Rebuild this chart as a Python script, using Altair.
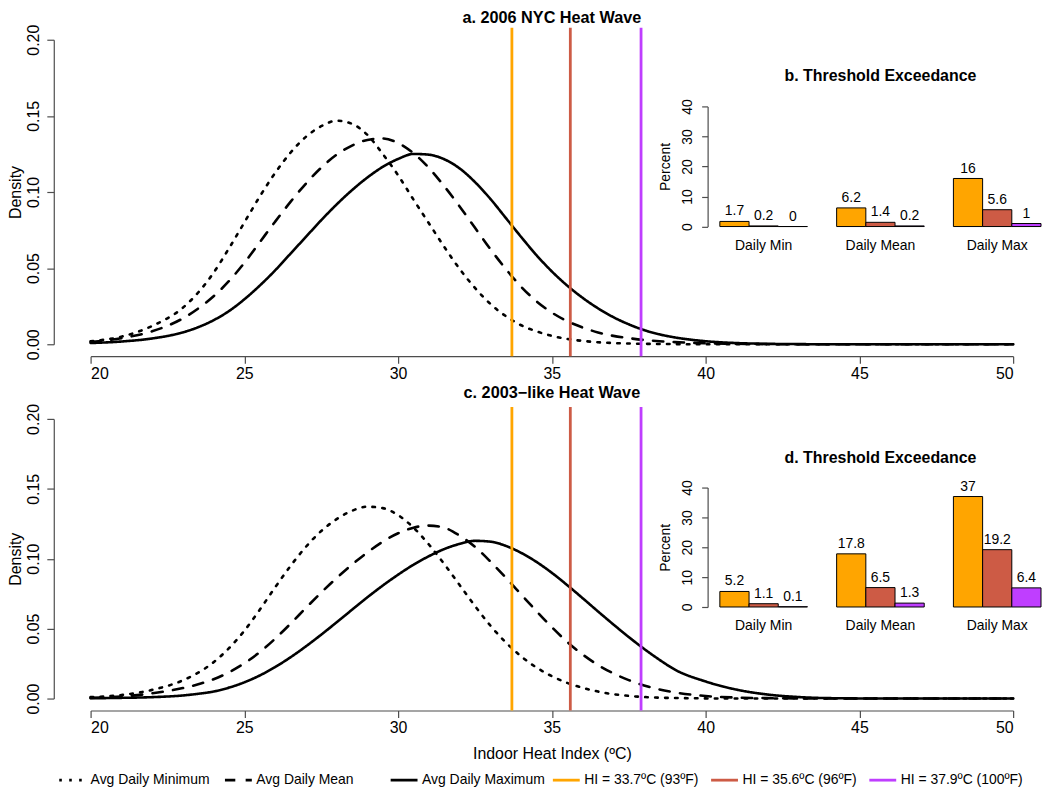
import altair as alt
import pandas as pd

# ---------------- data ----------------
X = [20, 21, 22, 23, 23.5, 24, 24.5, 25, 25.5, 26, 26.5, 27, 27.5, 28, 28.5, 29, 29.5,
     30, 30.5, 31, 31.5, 32, 32.5, 33, 33.5, 34, 34.5, 35, 35.5, 36, 36.5, 37, 37.5,
     38, 38.5, 39, 40, 41, 42, 43, 44, 46, 50]

# panel a: 2006 NYC heat wave
A_MIN = [0.002, 0.005, 0.012, 0.024, 0.034, 0.047, 0.063, 0.080, 0.097, 0.1125, 0.1258,
         0.1362, 0.1432, 0.1468, 0.1448, 0.1375, 0.125, 0.111, 0.095, 0.0795, 0.064, 0.0495,
         0.037, 0.0265, 0.0185, 0.0125, 0.0085, 0.0055, 0.0035, 0.0022, 0.0013, 0.0008,
         0.0005, 0.0003, 0.0002, 0.0001, 0, 0, 0, 0, 0, 0, 0]
A_MEAN = [0.0015, 0.004, 0.0085, 0.017, 0.0235, 0.0315, 0.0415, 0.0535, 0.067, 0.0805,
          0.0935, 0.1055, 0.116, 0.1245, 0.1305, 0.1342, 0.1352, 0.1322, 0.1255, 0.1158,
          0.1038, 0.0905, 0.0765, 0.0625, 0.0495, 0.0378, 0.0282, 0.0208, 0.0152, 0.011,
          0.0078, 0.0055, 0.004, 0.0028, 0.002, 0.0014, 0.0007, 0.0003, 0.0001, 0, 0, 0, 0]
A_MAX = [0.0008, 0.0018, 0.0038, 0.0078, 0.0112, 0.0158, 0.0218, 0.0295, 0.0385, 0.0485,
         0.0595, 0.0705, 0.0815, 0.0918, 0.1012, 0.1095, 0.1165, 0.1217, 0.125, 0.1245,
         0.1215, 0.1155, 0.1065, 0.0955, 0.083, 0.0705, 0.0585, 0.0478, 0.0385, 0.0305,
         0.0236, 0.0178, 0.0131, 0.0093, 0.0065, 0.0045, 0.002, 0.0008, 0.0003, 0.0001, 0, 0, 0]

# panel c: 2003-like heat wave
C_MIN = [0.001, 0.0025, 0.0062, 0.013, 0.0185, 0.026, 0.036, 0.0485, 0.0635, 0.0795,
         0.0948, 0.1085, 0.1198, 0.1283, 0.1343, 0.1372, 0.1362, 0.1312, 0.1222, 0.1102,
         0.0962, 0.0812, 0.0662, 0.0522, 0.0402, 0.0302, 0.0222, 0.016, 0.0112, 0.0077,
         0.005, 0.0031, 0.0019, 0.0011, 0.0006, 0.0004, 0.0001, 0, 0, 0, 0, 0, 0]
C_MEAN = [0.0005, 0.0015, 0.0037, 0.0075, 0.0102, 0.0138, 0.0188, 0.0252, 0.0332, 0.0428,
          0.0535, 0.0648, 0.0758, 0.0862, 0.0958, 0.1045, 0.1122, 0.1182, 0.1222, 0.1237,
          0.1222, 0.1165, 0.1085, 0.098, 0.0865, 0.0745, 0.0625, 0.051, 0.0405, 0.0315,
          0.024, 0.018, 0.0132, 0.0094, 0.0065, 0.0044, 0.0018, 0.0007, 0.0003, 0.0001, 0, 0, 0]
C_MAX = [0.0002, 0.0005, 0.001, 0.0022, 0.0034, 0.005, 0.0078, 0.0116, 0.0165, 0.0225,
         0.0295, 0.0373, 0.0457, 0.0545, 0.0635, 0.0724, 0.0808, 0.0886, 0.0957, 0.1018,
         0.1069, 0.1106, 0.1128, 0.1122, 0.1092, 0.1042, 0.0977, 0.0899, 0.0811, 0.0718,
         0.0623, 0.053, 0.044, 0.0355, 0.0277, 0.0207, 0.0122, 0.0064, 0.0029, 0.0011,
         0.0003, 0, 0]

LINES = ["Avg Daily Minimum", "Avg Daily Mean", "Avg Daily Maximum"]
THRESH_NAMES = ["HI = 33.7ºC (93ºF)", "HI = 35.6ºC (96ºF)", "HI = 37.9ºC (100ºF)"]
THRESH = [33.7, 35.6, 37.9]

CATS = ["Daily Min", "Daily Mean", "Daily Max"]
B_PCT = [[1.7, 0.2, 0], [6.2, 1.4, 0.2], [16, 5.6, 1]]
D_PCT = [[5.2, 1.1, 0.1], [17.8, 6.5, 1.3], [37, 19.2, 6.4]]

# ---------------- styling ----------------
FONT = "Liberation Sans"
TH_COLORS = ["#FFA500", "#CD5B45", "#BF3EFF"]
DASHES = [[2.6, 7.4], [10.4, 10.4], [1, 0]]
W = 927

dash_scale = alt.Scale(domain=LINES, range=DASHES)
th_scale = alt.Scale(domain=THRESH_NAMES, range=TH_COLORS)

LEG_COMMON = dict(title=None, orient="none", direction="horizontal", columns=3,
                  symbolType="stroke", symbolSize=729,
                  labelFontSize=14, labelOffset=3, labelFont=FONT, labelColor="black",
                  padding=0)
LEG_LINES = alt.Legend(legendX=-33, legendY=348, columnPadding=5.5, gridAlign="all",
                       symbolStrokeWidth=2.6, symbolStrokeColor="black", **LEG_COMMON)
LEG_TH = alt.Legend(legendX=463, legendY=348, columnPadding=6, gridAlign="each",
                    symbolStrokeWidth=2.8, **LEG_COMMON)


def panel(mins, means, maxs, pct, title, inset_title, H, zero_px, top_px, title_y,
          xtitle, with_legend):
    n = len(X)
    dens = pd.DataFrame({
        "x": X * 3,
        "d": mins + means + maxs,
        "series": [LINES[0]] * n + [LINES[1]] * n + [LINES[2]] * n,
    })
    rules_df = pd.DataFrame({"t": THRESH, "series": THRESH_NAMES})
    title_df = pd.DataFrame({"t": [title]})

    xs = alt.Scale(domain=[20, 50], nice=False, zero=False)
    ys = alt.Scale(domain=[0, 0.2], nice=False, zero=False)
    xax_kw = dict(values=list(range(20, 51, 5)), offset=12, tickSize=7, labelPadding=2,
                  labelFontSize=16, grid=False, title=xtitle if xtitle else None)
    if xtitle:
        xax_kw.update(titleFontSize=16, titlePadding=10, titleFontWeight="normal")
    xax = alt.Axis(**xax_kw)
    yax = alt.Axis(values=[0, 0.05, 0.1, 0.15, 0.2], format=".2f", offset=37, tickSize=7,
                   labelAngle=270, labelAlign="center", labelBaseline="bottom",
                   labelPadding=5, labelFontSize=16, title="Density", titleFontSize=16,
                   titleFontWeight="normal", titlePadding=2, grid=False)

    lines = alt.Chart(dens).mark_line(strokeWidth=2.6, strokeCap="round",
                                      interpolate="monotone", color="black").encode(
        x=alt.X("x:Q", scale=xs, axis=xax),
        y=alt.Y("d:Q", scale=ys, axis=yax),
        strokeDash=alt.StrokeDash("series:N", scale=dash_scale,
                                  legend=LEG_LINES if with_legend else None),
    )
    rules = alt.Chart(rules_df).mark_rule(strokeWidth=2.8).encode(
        x=alt.X("t:Q", scale=xs, axis=xax),
        y=alt.value(-12), y2=alt.value(H + 12),
        color=alt.Color("series:N", scale=th_scale,
                        legend=LEG_TH if with_legend else None),
    )
    ptitle = alt.Chart(title_df).mark_text(fontSize=16.3, fontWeight="bold",
                                           baseline="middle", color="black").encode(
        x=alt.X(datum=35, scale=xs, axis=xax), y=alt.value(title_y), text="t:N")

    # inset bar chart
    bdf = pd.DataFrame({
        "cat": [c for c in CATS for _ in range(3)],
        "thr": THRESH_NAMES * 3,
        "pct": [v for row in pct for v in row],
    })
    bdf["label"] = [f"{v:g}" for v in bdf["pct"]]
    bx = alt.X("cat:N", sort=CATS,
               scale=alt.Scale(domain=CATS, range=[632.3, 955],
                               paddingInner=0.25, paddingOuter=0),
               axis=alt.Axis(orient="bottom", offset=-(H - zero_px), domain=False,
                             ticks=False, labelAngle=0, labelPadding=12,
                             labelFontSize=14, title=None))
    bxo = alt.XOffset("thr:N", sort=THRESH_NAMES,
                      scale=alt.Scale(domain=THRESH_NAMES, paddingInner=0, paddingOuter=0))
    by = alt.Y("pct:Q", scale=alt.Scale(domain=[0, 40], range=[zero_px, top_px], nice=False),
               axis=alt.Axis(orient="left", offset=-620, values=[0, 10, 20, 30, 40],
                             tickSize=6, labelAngle=270, labelAlign="center",
                             labelBaseline="bottom", labelFontSize=14, labelPadding=7,
                             title="Percent", titleFontSize=14, titleFontWeight="normal",
                             titlePadding=8, grid=False))
    bars = alt.Chart(bdf).mark_bar(stroke="black", strokeWidth=1).encode(
        x=bx, xOffset=bxo, y=by,
        fill=alt.Fill("thr:N", scale=alt.Scale(domain=THRESH_NAMES, range=TH_COLORS),
                      legend=None),
    )
    labels = alt.Chart(bdf).mark_text(dy=-10, fontSize=14, baseline="middle",
                                      color="black").encode(
        x=bx, xOffset=bxo, y=by, text="label:N")
    tdf = pd.DataFrame({"cat": ["Daily Mean"], "pct": [50], "t": [inset_title]})
    ttl = alt.Chart(tdf).mark_text(fontSize=16, fontWeight="bold", baseline="middle",
                                   color="black").encode(x=bx, y=by, text="t:N")

    dens_layer = alt.layer(lines, rules, ptitle)
    inset = alt.layer(bars, labels, ttl)
    return alt.layer(dens_layer, inset).resolve_scale(
        x="independent", y="independent"
    ).properties(width=W, height=H)


top = panel(A_MIN, A_MEAN, A_MAX, B_PCT, "a. 2006 NYC Heat Wave",
            "b. Threshold Exceedance", 306, 187.7, 67, -22, None, False)
bottom = panel(C_MIN, C_MEAN, C_MAX, D_PCT, "c. 2003\u2212like Heat Wave",
               "d. Threshold Exceedance", 281, 189, 69, -26, "Indoor Heat Index (ºC)", True)

chart = alt.vconcat(top, bottom, spacing=4).resolve_scale(
    color="independent", strokeDash="independent"
).properties(
    padding=0, background="white"
).configure(
    font=FONT
).configure_view(
    stroke=None
).configure_axis(
    labelFont=FONT, titleFont=FONT, labelColor="black", titleColor="black",
    domainColor="#4d4d4d", tickColor="#4d4d4d", domainWidth=1.2, tickWidth=1.2,
)

chart.save("out.html", embed_options={"renderer": "svg", "actions": False})
